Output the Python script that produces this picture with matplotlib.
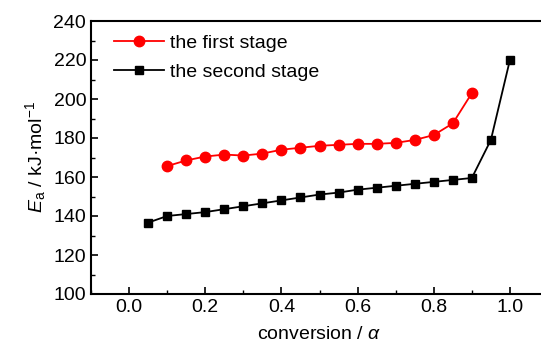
import matplotlib
matplotlib.use("Agg")
import matplotlib.pyplot as plt
from matplotlib.ticker import MultipleLocator

plt.rcParams['font.family'] = ['Liberation Sans', 'DejaVu Sans']
plt.rcParams['mathtext.fontset'] = 'custom'
plt.rcParams['mathtext.rm'] = 'Liberation Sans'
plt.rcParams['mathtext.it'] = 'Liberation Sans:italic'

x_first = [0.10, 0.15, 0.20, 0.25, 0.30, 0.35, 0.40, 0.45, 0.50, 0.55, 0.60, 0.65, 0.70, 0.75, 0.80, 0.85, 0.90]
ea_first = [165.6, 168.5, 170.5, 171.5, 171.0, 172.0, 174.0, 175.0, 176.0, 176.5, 177.0, 177.0, 177.5, 179.0, 181.5, 187.5, 203.0]

x_second = [0.05, 0.10, 0.15, 0.20, 0.25, 0.30, 0.35, 0.40, 0.45, 0.50, 0.55, 0.60, 0.65, 0.70, 0.75, 0.80, 0.85, 0.90, 0.95, 1.00]
ea_second = [136.6, 140.0, 141.0, 142.0, 143.5, 145.0, 146.5, 148.0, 149.5, 151.0, 152.0, 153.5, 154.5, 155.5, 156.5, 157.5, 158.5, 159.5, 179.0, 220.0]

fig = plt.figure(figsize=(5.41, 3.5), dpi=100)
ax = fig.add_axes([91/541, 56/350, 457/541, 273/350])

ax.plot(x_first, ea_first, color='red', marker='o', markersize=7.5, linewidth=1.3, label='the first stage')
ax.plot(x_second, ea_second, color='black', marker='s', markersize=6, linewidth=1.3, label='the second stage')

ax.set_xlim(-0.1, 1.1)
ax.set_ylim(100, 240)
ax.xaxis.set_major_locator(MultipleLocator(0.2))
ax.xaxis.set_minor_locator(MultipleLocator(0.1))
ax.yaxis.set_major_locator(MultipleLocator(20))
ax.yaxis.set_minor_locator(MultipleLocator(10))
ax.tick_params(which='both', direction='in', labelsize=14)
ax.tick_params(which='major', length=5, width=1.2)
ax.tick_params(which='minor', length=3, width=1.0)
ax.xaxis.set_major_formatter(matplotlib.ticker.FormatStrFormatter('%.1f'))
for s in ax.spines.values():
    s.set_linewidth(1.5)

ax.set_xlabel('conversion / $\\alpha$', fontsize=14, labelpad=7)
ax.set_ylabel('$E$$_\\mathrm{a}$ / kJ·mol$^{-1}$', fontsize=14, labelpad=4)

ax.legend(loc='upper left', frameon=False, fontsize=14, handlelength=2.6,
          handletextpad=0.3, borderaxespad=0.3, labelspacing=0.55, bbox_to_anchor=(0.02, 1.0))

fig.savefig('out.png', dpi=100)
